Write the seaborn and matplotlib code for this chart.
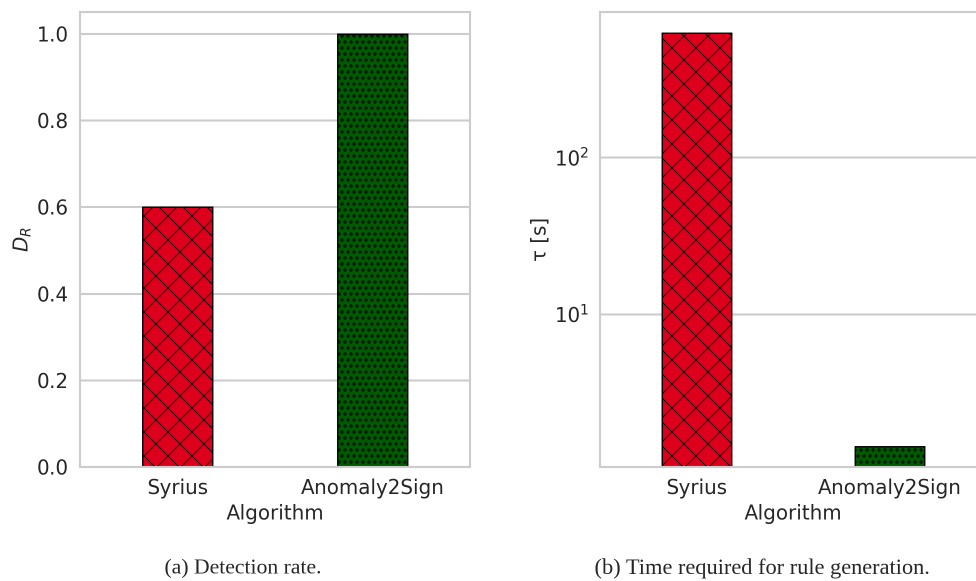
import io
import matplotlib
matplotlib.use('Agg')
import numpy as np
import pandas as pd
import matplotlib.pyplot as plt
import seaborn as sns

# Values
algorithms = ['Syrius', 'Anomaly2Sign']
detection_rate = [0.6, 1.0]
rule_time_s = [625, 1.44]
bar_colors = ['#dc001c', '#005a00']
bar_hatches = ['x', 'oo']
hatch_widths = [0.9, 0.6]

df = pd.DataFrame({'Algorithm': algorithms,
                   'D_R': detection_rate,
                   'tau': rule_time_s})

# figure is 976x581 at 72 dpi (so hatch spacing matches); rendered at 2x and
# averaged down so the small hatch circles stay visible as rings
DPI = 72
SS = 2
S = 100 / DPI

sns.set_theme(style='whitegrid')
plt.rcParams['font.family'] = ['DejaVu Sans']
plt.rcParams['hatch.linewidth'] = 0.9
plt.rcParams['axes.edgecolor'] = '#cccccc'
plt.rcParams['axes.linewidth'] = 1.5 * S
plt.rcParams['grid.linewidth'] = 1.5 * S
plt.rcParams['grid.color'] = '#cccccc'

fig = plt.figure(figsize=(976 / DPI, 581 / DPI), dpi=DPI)
ax1 = fig.add_axes([0.082, 0.196, 0.3996, 0.783])
ax2 = fig.add_axes([0.6148, 0.196, 0.3955, 0.783])

tick_fs = 14.3 * S

# (a) detection rate
sns.barplot(data=df, x='Algorithm', y='D_R', hue='Algorithm',
            palette=bar_colors, saturation=1, width=0.36, edgecolor='black',
            linewidth=1.0 * S, legend=False, ax=ax1)
ax1.set_ylabel('$D_R$', fontsize=tick_fs)
ax1.set_xlabel('Algorithm', fontsize=tick_fs, labelpad=4 * S)

# (b) time for rule generation, log scale
ax2.set_yscale('log')
sns.barplot(data=df, x='Algorithm', y='tau', hue='Algorithm',
            palette=bar_colors, saturation=1, width=0.36, edgecolor='black',
            linewidth=1.0 * S, legend=False, ax=ax2)
ax2.set_ylabel('τ [s]', fontsize=tick_fs)
ax2.set_xlabel('Algorithm', fontsize=tick_fs, labelpad=4 * S)

for ax in (ax1, ax2):
    for patch, h, hw in zip(ax.patches, bar_hatches, hatch_widths):
        patch.set_hatch(h)
        if hasattr(patch, 'set_hatch_linewidth'):
            patch.set_hatch_linewidth(hw)
    ax.tick_params(labelsize=tick_fs, pad=4 * S)
    ax.set_xlim(-0.5, 1.5)

# sub-figure captions
fig.text(0.249, 0.022, '(a) Detection rate.', ha='center', va='center',
         family='Liberation Serif', fontsize=15.6 * S)
fig.text(0.781, 0.022, '(b) Time required for rule generation.', ha='center',
         va='center', family='Liberation Serif', fontsize=16.1 * S)

buf = io.BytesIO()
fig.savefig(buf, format='png', dpi=DPI * SS)
buf.seek(0)
img = plt.imread(buf)
h, w = img.shape[0] // SS * SS, img.shape[1] // SS * SS
img = img[:h, :w].reshape(h // SS, SS, w // SS, SS, -1).mean(axis=(1, 3))
plt.imsave('out.png', np.clip(img, 0, 1))
